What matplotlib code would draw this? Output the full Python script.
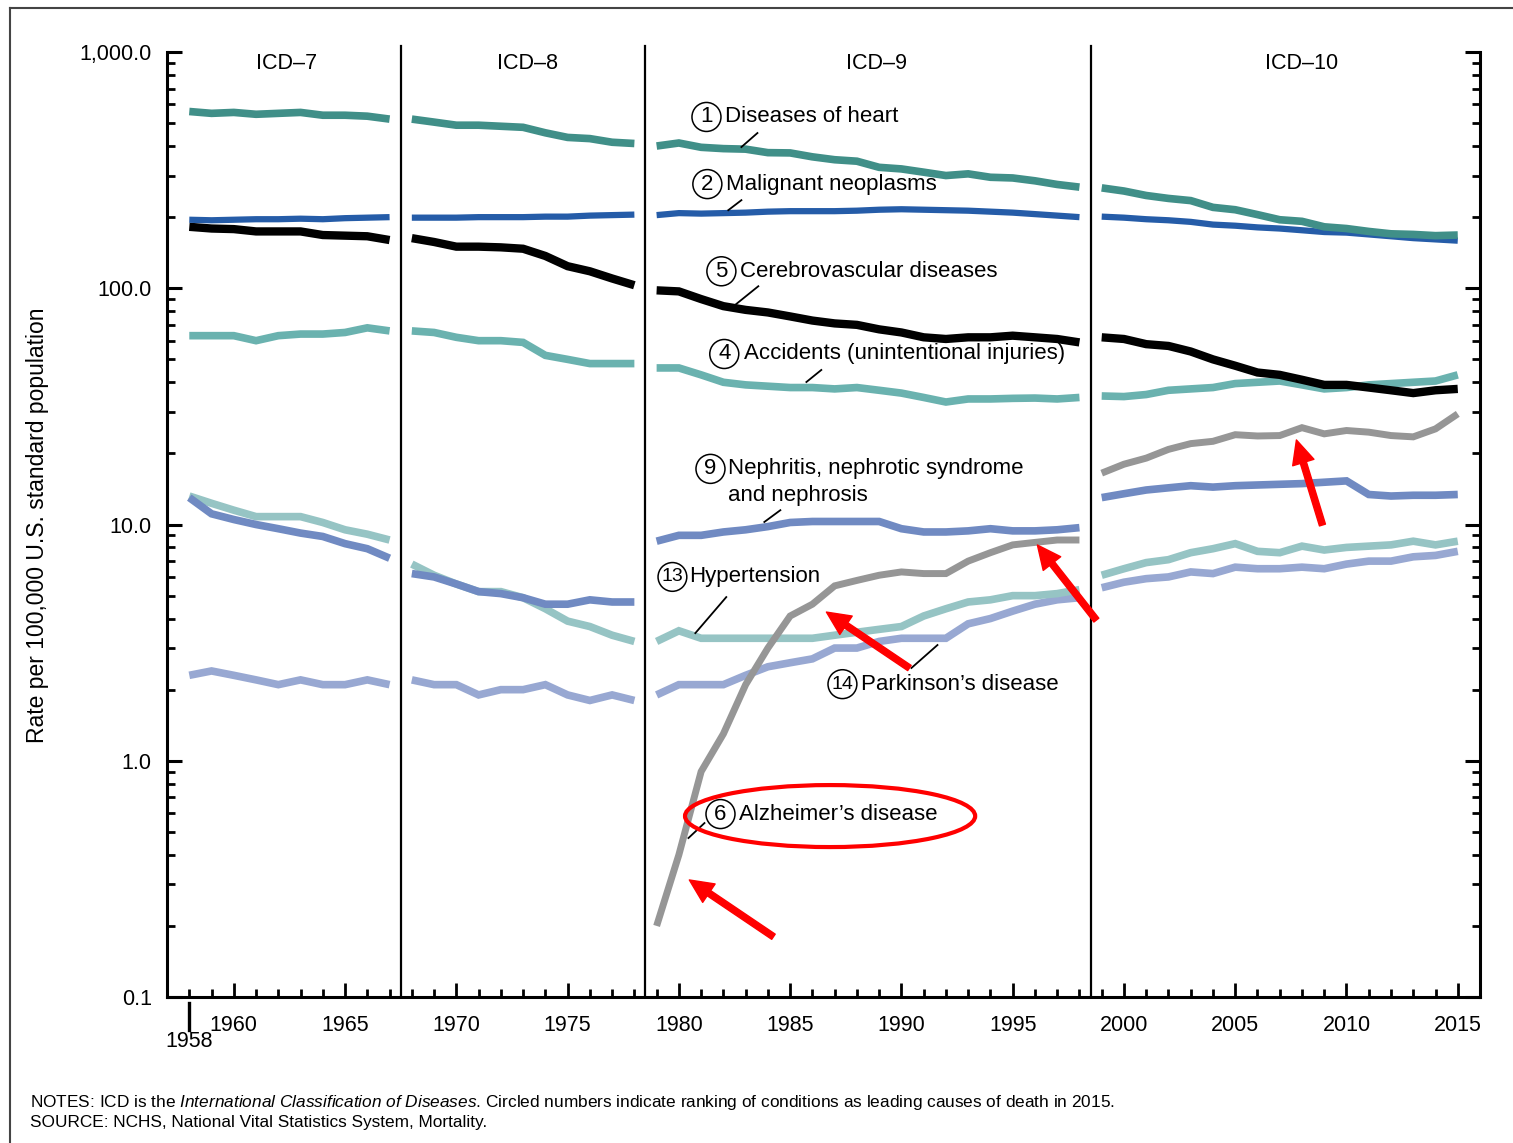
import matplotlib
matplotlib.use("Agg")
import matplotlib.pyplot as plt
from matplotlib.lines import Line2D
from matplotlib.patches import Ellipse
from matplotlib.ticker import LogLocator, MultipleLocator, NullFormatter
from matplotlib.transforms import blended_transform_factory

plt.rcParams['font.family'] = ['Liberation Sans', 'DejaVu Sans']
plt.rcParams['mathtext.fontset'] = 'custom'
plt.rcParams['mathtext.rm'] = 'Liberation Sans'
plt.rcParams['mathtext.it'] = 'Liberation Sans:italic'

# =============================================================================
# DATA  (age-adjusted death rates)
# =============================================================================

YEARS_ICD7 = list(range(1958, 1968))
YEARS_ICD8 = list(range(1968, 1979))
YEARS_ICD9 = list(range(1979, 1999))
YEARS_ICD10 = list(range(1999, 2016))
PERIOD_YEARS = [YEARS_ICD7, YEARS_ICD8, YEARS_ICD9, YEARS_ICD10]

PERIOD_NAMES = ["ICD\u20137", "ICD\u20138", "ICD\u20139", "ICD\u201310"]
PERIOD_BREAKS = [1967.5, 1978.5, 1998.5]

HEART = [
    [560, 550, 555, 545, 550, 555, 540, 540, 535, 520],
    [520, 505, 490, 490, 485, 480, 455, 435, 430, 415, 410],
    [400, 412, 395, 390, 388, 375, 374, 360, 350, 345, 325, 320, 310, 300,
     305, 295, 293, 285, 275, 268],
    [266, 258, 247, 240, 235, 220, 215, 205, 195, 192, 182, 179, 174, 170,
     169, 167, 168],
]
CANCER = [
    [195, 194, 195, 196, 196, 197, 196, 198, 199, 200],
    [199, 199, 199, 200, 200, 200, 201, 201, 203, 204, 205],
    [204, 208, 207, 208, 209, 211, 212, 212, 212, 213, 215, 216, 215, 214,
     213, 211, 209, 206, 203, 200],
    [201, 199, 196, 194, 191, 186, 184, 181, 179, 176, 173, 172, 169, 166,
     163, 161, 159],
]
STROKE = [
    [182, 179, 178, 174, 174, 174, 168, 167, 166, 160],
    [163, 157, 150, 150, 149, 147, 137, 124, 118, 110, 103],
    [98, 97, 90, 84, 81, 79, 76, 73, 71, 70, 67, 65, 62, 61, 62, 62, 63,
     62, 61, 59],
    [62, 61, 58, 57, 54, 50, 47, 44, 43, 41, 39, 39, 38, 37, 36, 37, 37.5],
]
ACCIDENTS = [
    [63, 63, 63, 60, 63, 64, 64, 65, 68, 66],
    [66, 65, 62, 60, 60, 59, 52, 50, 48, 48, 48],
    [46, 46, 43, 40, 39, 38.5, 38, 38, 37.5, 38, 37, 36, 34.5, 33, 34, 34,
     34.2, 34.3, 34, 34.5],
    [35, 34.8, 35.5, 37, 37.5, 38, 39.5, 40, 40.5, 39, 37.5, 38, 39, 39.5,
     40, 40.5, 43],
]
NEPHRITIS = [
    [13.0, 11.1, 10.5, 10.0, 9.6, 9.2, 8.9, 8.3, 7.9, 7.2],
    [6.2, 6.0, 5.6, 5.2, 5.1, 4.9, 4.6, 4.6, 4.8, 4.7, 4.7],
    [8.5, 9.0, 9.0, 9.3, 9.5, 9.8, 10.2, 10.3, 10.3, 10.3, 10.3, 9.6, 9.3,
     9.3, 9.4, 9.6, 9.4, 9.4, 9.5, 9.7],
    [13.0, 13.5, 14.0, 14.3, 14.6, 14.4, 14.6, 14.7, 14.8, 14.9, 15.1, 15.3,
     13.4, 13.2, 13.3, 13.3, 13.4],
]
HYPERTENSION = [
    [13.2, 12.3, 11.5, 10.8, 10.8, 10.8, 10.2, 9.5, 9.1, 8.6],
    [6.8, 6.1, 5.6, 5.2, 5.2, 4.9, 4.4, 3.9, 3.7, 3.4, 3.2],
    [3.2, 3.55, 3.3, 3.3, 3.3, 3.3, 3.3, 3.3, 3.4, 3.5, 3.6, 3.7, 4.1, 4.4,
     4.7, 4.8, 5.0, 5.0, 5.1, 5.3],
    [6.1, 6.5, 6.9, 7.1, 7.6, 7.9, 8.3, 7.7, 7.6, 8.1, 7.8, 8.0, 8.1, 8.2,
     8.5, 8.2, 8.5],
]
PARKINSON = [
    [2.3, 2.4, 2.3, 2.2, 2.1, 2.2, 2.1, 2.1, 2.2, 2.1],
    [2.2, 2.1, 2.1, 1.9, 2.0, 2.0, 2.1, 1.9, 1.8, 1.9, 1.8],
    [1.9, 2.1, 2.1, 2.1, 2.3, 2.5, 2.6, 2.7, 3.0, 3.0, 3.2, 3.3, 3.3, 3.3,
     3.8, 4.0, 4.3, 4.6, 4.8, 4.9],
    [5.4, 5.7, 5.9, 6.0, 6.3, 6.2, 6.6, 6.5, 6.5, 6.6, 6.5, 6.8, 7.0, 7.0,
     7.3, 7.4, 7.7],
]
ALZHEIMER = [
    None,
    None,
    [0.2, 0.4, 0.9, 1.3, 2.1, 3.0, 4.1, 4.6, 5.5, 5.8, 6.1, 6.3, 6.2, 6.2,
     7.0, 7.6, 8.2, 8.4, 8.6, 8.6],
    [16.5, 18.0, 19.1, 20.8, 22.0, 22.5, 24.0, 23.7, 23.8, 25.7, 24.2, 25.0,
     24.6, 23.8, 23.5, 25.4, 29.4],
]

YTICKS = [0.1, 1, 10, 100, 1000]
YTICK_LABELS = ["0.1", "1.0", "10.0", "100.0", "1,000.0"]
XTICKS = [1960, 1965, 1970, 1975, 1980, 1985, 1990, 1995, 2000, 2005, 2010, 2015]

# series drawn back to front: (values, colour, line width)
SERIES = [
    (PARKINSON, "#98a8d2", 5.5),
    (HYPERTENSION, "#96c4c4", 5.5),
    (NEPHRITIS, "#708ac2", 5.5),
    (ACCIDENTS, "#6ab2af", 5.5),
    (STROKE, "black", 6),
    (CANCER, "#255ca8", 4.5),
    (HEART, "#408f88", 5.5),
    (ALZHEIMER, "#969696", 5),
]

# rank, label lines, circle position, text x, leader line (two points)
LABELS = [
    ("1", ["Diseases of heart"], (1981.24, 531), 1982.09,
     ((1983.53, 454), (1982.81, 396))),
    ("2", ["Malignant neoplasms"], (1981.28, 276), 1982.13,
     ((1982.81, 236), (1982.22, 214))),
    ("5", ["Cerebrovascular diseases"], (1981.91, 118), 1982.76,
     ((1983.57, 102), (1982.58, 85.8))),
    ("4", ["Accidents (unintentional injuries)"], (1982.04, 52.7), 1982.94,
     ((1986.40, 45.1), (1985.73, 40.1))),
    ("9", ["Nephritis, nephrotic syndrome", "and nephrosis"], (1981.42, 17.2), 1982.22,
     ((1984.56, 11.5), (1983.84, 10.25))),
    ("13", ["Hypertension"], (1979.71, 6.0), 1980.47,
     ((1982.13, 4.93), (1980.74, 3.47))),
    ("14", ["Parkinson\u2019s disease"], (1987.35, 2.11), 1988.20,
     ((1991.62, 3.09), (1990.45, 2.47))),
    ("6", ["Alzheimer\u2019s disease"], (1981.87, 0.595), 1982.72,
     ((1981.15, 0.545), (1980.43, 0.471))),
]

# red call-out arrows: (tail, head)
ARROWS = [
    ((1984.25, 0.18), (1980.47, 0.313)),
    ((1990.36, 2.47), (1986.63, 4.26)),
    ((1998.76, 3.94), (1996.11, 8.19)),
    ((2008.92, 9.95), (2007.75, 22.8)),
]

# =============================================================================
# PLOT
# =============================================================================

fig = plt.figure(figsize=(15.13, 11.43), dpi=100)
ax = fig.add_axes([0.1104, 0.1277, 0.8678, 0.8268])
ax.set_yscale("log")
ax.set_xlim(1957, 2016)
ax.set_ylim(0.1, 1000)

for values, color, lw in SERIES:
    for years, seg in zip(PERIOD_YEARS, values):
        if seg is None:
            continue
        ax.plot(years, seg, color=color, lw=lw, solid_joinstyle="miter",
                solid_capstyle="butt", zorder=3)

xblend = blended_transform_factory(ax.transData, ax.transAxes)

for xb in PERIOD_BREAKS:
    ax.plot([xb, xb], [0, 1.006], transform=xblend, color="black", lw=1.6,
            clip_on=False, zorder=2)

header_x = [1962.36, 1973.2, 1988.9, 2008.0]
for name, hx in zip(PERIOD_NAMES, header_x):
    ax.text(hx, 0.988, name, transform=xblend, ha="center", va="center",
            fontsize=15.5)

# axes styling
for side in ["left", "right", "bottom"]:
    ax.spines[side].set_linewidth(2.2)
ax.spines["top"].set_visible(False)

ax.set_yticks(YTICKS, YTICK_LABELS)
ax.yaxis.set_minor_locator(LogLocator(base=10, subs=range(2, 10)))
ax.yaxis.set_minor_formatter(NullFormatter())
ax.tick_params(axis="y", which="both", direction="in", left=True, right=True,
               labelsize=15.5, pad=11)
ax.tick_params(axis="y", which="major", length=11, width=2.2)
ax.tick_params(axis="y", which="minor", length=6, width=2)

ax.set_xticks(XTICKS, [str(y) for y in XTICKS])
ax.xaxis.set_minor_locator(MultipleLocator(1))
ax.tick_params(axis="x", which="both", direction="in", top=False,
               labelsize=15.5, pad=13)
ax.tick_params(axis="x", which="major", length=10, width=2)
ax.tick_params(axis="x", which="minor", length=6, width=2)

# the 1958 start marker below the axis
ax.plot([1958, 1958], [-0.006, -0.035], transform=xblend, color="black",
        lw=2.4, clip_on=False)
ax.text(1958, -0.0466, "1958", transform=xblend, ha="center", va="center",
        fontsize=15.5)

# circled ranks, labels and leader lines
for rank, lines, (cx, cy), tx, (p0, p1) in LABELS:
    ax.text(cx, cy, rank, ha="center", va="center",
            fontsize=16 if len(rank) == 1 else 14,
            bbox=dict(boxstyle="circle,pad=0.18", fc="none", ec="black", lw=1.1))
    ax.text(tx, cy, lines[0], ha="left", va="center", fontsize=16)
    if len(lines) > 1:
        ax.text(tx, cy / 1.29, lines[1], ha="left", va="center", fontsize=16)
    ax.plot([p0[0], p1[0]], [p0[1], p1[1]], color="black", lw=1.3, zorder=4)

# red call-outs
for tail, head in ARROWS:
    ax.annotate("", xy=head, xytext=tail,
                arrowprops=dict(facecolor="red", edgecolor="red", width=4.5,
                                headwidth=16, headlength=17, shrink=0),
                zorder=6)
ax.add_patch(Ellipse((0.505, 0.1915), 0.221, 0.0656, transform=ax.transAxes,
                     fill=False, ec="red", lw=3, zorder=6))

fig.text(38 / 1513, 1 - 525 / 1143, "Rate per 100,000 U.S. standard population",
         rotation=90, ha="center", va="center", fontsize=16.5)

fig.text(30 / 1513, 1 - 1102 / 1143,
         "NOTES: ICD is the $International\\ Classification\\ of\\ Diseases$. "
         "Circled numbers indicate ranking of conditions as leading causes of death in 2015.",
         ha="left", va="center", fontsize=12.4)
fig.text(30 / 1513, 1 - 1122 / 1143,
         "SOURCE: NCHS, National Vital Statistics System, Mortality.",
         ha="left", va="center", fontsize=12.4)

# page frame (top and left edges visible)
fig.add_artist(Line2D([10 / 1513, 1], [1 - 8 / 1143] * 2, transform=fig.transFigure,
                      color="#444444", lw=1.5))
fig.add_artist(Line2D([10 / 1513] * 2, [0, 1 - 8 / 1143], transform=fig.transFigure,
                      color="#444444", lw=1.5))

fig.savefig("out.png", dpi=100)
